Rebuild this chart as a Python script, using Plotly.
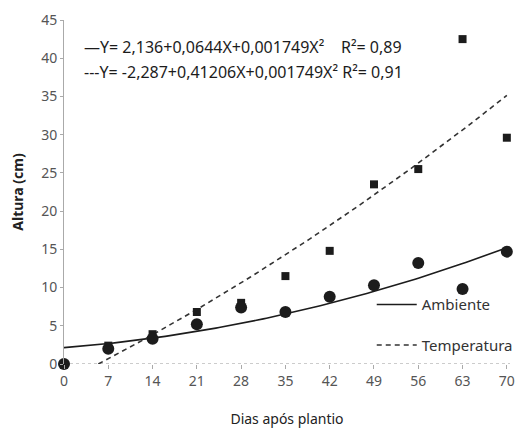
import numpy as np
import plotly.graph_objects as go

dias = [0, 7, 14, 21, 28, 35, 42, 49, 56, 63, 70]
ambiente = [0, 2.0, 3.3, 5.2, 7.4, 6.8, 8.8, 10.3, 13.2, 9.8, 14.7]
temperatura = [0, 2.4, 3.9, 6.8, 8.0, 11.5, 14.8, 23.5, 25.5, 42.5, 29.6]

coef_ambiente = [2.136, 0.0644, 0.001749]
coef_temperatura = [-2.287, 0.41206, 0.001749]

eq_ambiente = "—Y= 2,136+0,0644X+0,001749X²    R²= 0,89"
eq_temperatura = "---Y= -2,287+0,41206X+0,001749X² R²= 0,91"

x_tick_vals = dias
y_tick_vals = [0, 5, 10, 15, 20, 25, 30, 35, 40, 45]

FONT = "Noto Sans, sans-serif"
INK = "#1c1c1c"


def poly(c, x):
    return c[0] + c[1] * x + c[2] * x ** 2


xa = np.linspace(0, 70, 141)
ya = poly(coef_ambiente, xa)
x0t = (-coef_temperatura[1] + np.sqrt(coef_temperatura[1] ** 2 - 4 * coef_temperatura[2] * coef_temperatura[0])) / (2 * coef_temperatura[2])
xt = np.linspace(x0t, 70, 141)
yt = poly(coef_temperatura, xt)

fig = go.Figure()
fig.add_trace(go.Scatter(x=xa, y=ya, mode="lines", name="Ambiente", legendgroup="a",
                         line=dict(color=INK, width=1.6), cliponaxis=False))
fig.add_trace(go.Scatter(x=xt, y=yt, mode="lines", name="Temperatura", legendgroup="t",
                         line=dict(color="#333333", width=1.6, dash="5px,4px"), cliponaxis=False))
fig.add_trace(go.Scatter(x=dias, y=temperatura, mode="markers", showlegend=False,
                         marker=dict(symbol="square", size=8, color=INK), cliponaxis=False))
fig.add_trace(go.Scatter(x=dias, y=ambiente, mode="markers", showlegend=False,
                         marker=dict(symbol="circle", size=12, color=INK), cliponaxis=False))

fig.add_shape(type="line", xref="x", yref="y", x0=0, x1=70.5, y0=0, y1=0,
              line=dict(color="#999999", width=1.2, dash="dot"), layer="below")

fig.add_annotation(text=eq_ambiente, xref="paper", yref="paper", x=0.04, y=0.922,
                   xanchor="left", yanchor="middle", showarrow=False,
                   font=dict(family=FONT, size=16, color=INK))
fig.add_annotation(text=eq_temperatura, xref="paper", yref="paper", x=0.04, y=0.849,
                   xanchor="left", yanchor="middle", showarrow=False,
                   font=dict(family=FONT, size=16, color=INK))

fig.update_layout(
    width=517, height=431,
    margin=dict(l=64, r=7, t=20, b=67, autoexpand=False),
    plot_bgcolor="white", paper_bgcolor="white",
    font=dict(family=FONT, color="#555555", size=13),
    legend=dict(x=0.69, y=0.22, xanchor="left", yanchor="top",
                font=dict(family=FONT, size=15, color="#333333"),
                bgcolor="rgba(0,0,0,0)", tracegroupgap=18, itemwidth=40),
)
fig.update_xaxes(range=[0, 70.5], tickvals=x_tick_vals, showgrid=False, zeroline=False,
                 showline=False, ticks="outside", ticklen=4, tickcolor="#aaaaaa",
                 tickfont=dict(size=14, color="#555555"), automargin=False,
                 title=dict(text="Dias após plantio", font=dict(size=14, color="#222222"), standoff=25))
fig.update_yaxes(range=[0, 45], tickvals=y_tick_vals, showgrid=False, zeroline=False,
                 showline=True, linecolor="#aaaaaa", linewidth=1, ticks="outside", ticklen=3,
                 tickcolor="#aaaaaa", tickfont=dict(size=14, color="#555555"), automargin=False,
                 title=dict(text="<b>Altura (cm)</b>", font=dict(size=14, color="#222222"), standoff=14))

fig.write_html(
    "out.html",
    config={"displayModeBar": False},
    post_script="document.body.style.margin='0';document.body.style.overflow='hidden';",
)
